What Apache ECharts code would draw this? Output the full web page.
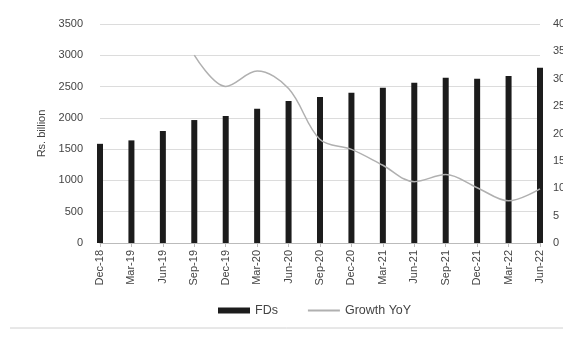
<!DOCTYPE html>
<html>
<head>
<meta charset="utf-8">
<script src="https://cdn.jsdelivr.net/npm/echarts@6/dist/echarts.min.js"></script>
<style>
  html, body { margin: 0; padding: 0; background: #fff; }
  #chart { width: 563px; height: 339px; }
</style>
</head>
<body>
<div id="chart"></div>
<script>
// quarters on the x axis
const quarters = ["Dec-18", "Mar-19", "Jun-19", "Sep-19", "Dec-19", "Mar-20", "Jun-20", "Sep-20",
  "Dec-20", "Mar-21", "Jun-21", "Sep-21", "Dec-21", "Mar-22", "Jun-22"];
// FDs, Rs. billion
const fdValues = [1585, 1640, 1790, 1965, 2030, 2145, 2270, 2335, 2400, 2480, 2560, 2640, 2625, 2670, 2800];
// growth YoY, %  (no value before Sep-19)
const growthValues = [null, null, null, 34.3, 28.6, 31.4, 28.2, 18.9, 17.1, 14.2, 11.2, 12.5, 10.1, 7.7, 9.9];

const font = "'Liberation Sans', sans-serif";
const textColor = "#444";

const chart = echarts.init(document.getElementById("chart"));
const option = {
  animation: false,
  textStyle: { fontFamily: font },
  grid: { left: 100, right: 23, top: 24, bottom: 96, outerBoundsMode: "none" },
  legend: {
    bottom: 17,
    left: 213,
    itemGap: 29,
    itemWidth: 32,
    itemHeight: 6,
    textStyle: { color: textColor, fontSize: 12.5, fontFamily: font },
    data: [
      { name: "FDs", icon: "rect" },
      { name: "Growth YoY", itemStyle: { opacity: 0 } }
    ]
  },
  xAxis: {
    type: "category",
    data: quarters,
    boundaryGap: false,
    axisLine: { lineStyle: { color: "#bbb" } },
    axisTick: { show: true, length: 4, lineStyle: { color: "#bbb" } },
    axisLabel: { rotate: 90, margin: 7, color: textColor, fontSize: 11, fontFamily: font }
  },
  yAxis: [
    {
      type: "value",
      min: 0,
      max: 3500,
      interval: 500,
      name: "Rs. billion",
      nameLocation: "middle",
      nameGap: 52,
      nameTextStyle: { color: textColor, fontSize: 11, fontFamily: font },
      axisLine: { show: false },
      axisTick: { show: false },
      axisLabel: { margin: 17, color: textColor, fontSize: 11, fontFamily: font, formatter: v => String(v) },
      splitLine: { lineStyle: { color: "#dcdcdc" } }
    },
    {
      type: "value",
      min: 0,
      max: 40,
      interval: 5,
      position: "right",
      axisLine: { show: false },
      axisTick: { show: false },
      axisLabel: { margin: 13, color: textColor, fontSize: 11, fontFamily: font },
      splitLine: { show: false }
    }
  ],
  series: [
    {
      name: "FDs",
      type: "bar",
      barWidth: 6,
      itemStyle: { color: "#1c1c1c" },
      data: fdValues
    },
    {
      name: "Growth YoY",
      type: "line",
      yAxisIndex: 1,
      smooth: 0.35,
      symbol: "none",
      lineStyle: { color: "#b0b0b0", width: 1.5 },
      itemStyle: { color: "#b0b0b0" },
      data: growthValues
    }
  ],
  graphic: [
    {
      type: "line",
      shape: { x1: 10, y1: 328, x2: 563, y2: 328 },
      style: { stroke: "#d0d0d0", lineWidth: 1 }
    }
  ]
};
chart.setOption(option);
</script>
</body>
</html>
